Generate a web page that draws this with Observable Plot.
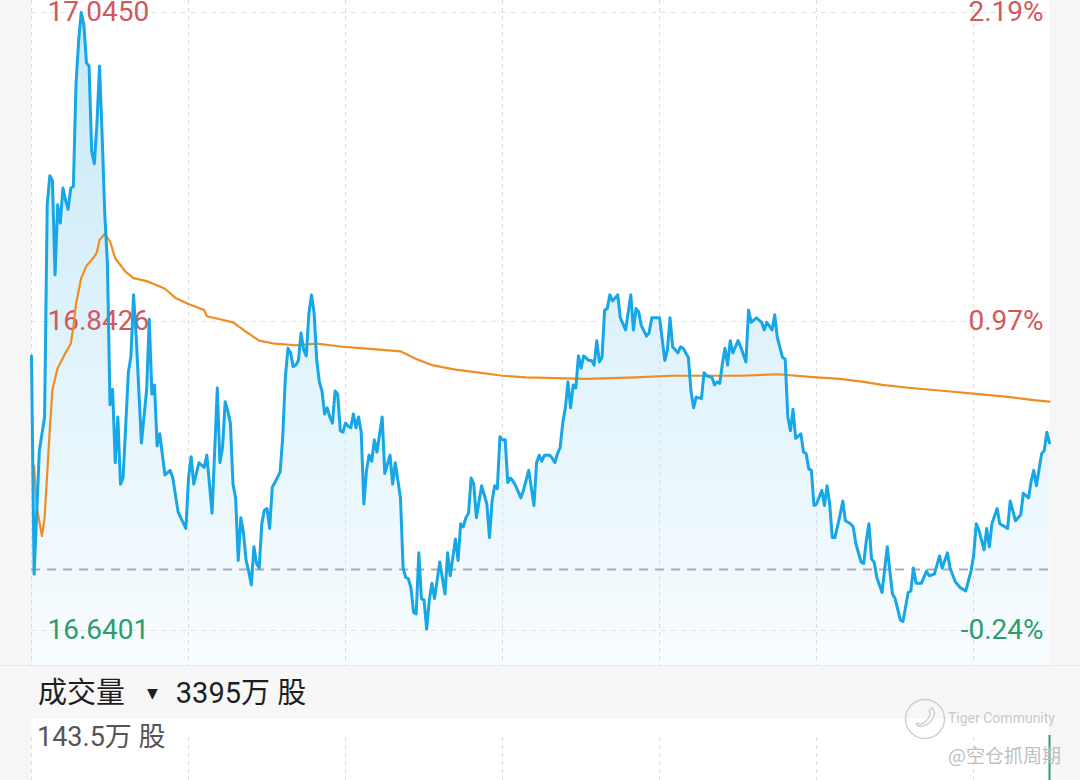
<!DOCTYPE html>
<html>
<head>
<meta charset="utf-8">
<script src="https://cdn.jsdelivr.net/npm/d3@7"></script>
<script src="https://cdn.jsdelivr.net/npm/@observablehq/plot@0.6"></script>
<style>
  html, body { margin: 0; padding: 0; background: #f6f6f7; }
  #wrap { position: relative; width: 1080px; height: 780px; overflow: hidden; background: #f6f6f7;
          font-family: Roboto, "Noto Sans CJK SC", sans-serif; }
  #chart { position: absolute; left: 0; top: 0; }
  #band { position: absolute; left: 0; top: 665px; width: 1080px; height: 53px; box-sizing: border-box;
          border-top: 1px solid #e9e9ea; background: #f7f7f8; }
  #volTitle { position: absolute; left: 38px; top: 7px; font-size: 29px; color: #1f1f1f;
              font-family: Roboto, "Noto Sans CJK SC", sans-serif; white-space: pre; line-height: 40px; }
  #volTitle .tri { font-size: 14px; vertical-align: 5px; margin: 0 18px 0 22px; font-family: "DejaVu Sans", sans-serif; }
  #volPanel { position: absolute; left: 0; top: 718px; width: 1080px; height: 62px; overflow: hidden; }
  #volMax { position: absolute; left: 37px; top: 718px; font-size: 27px; color: #555; line-height: 38px; white-space: pre; }
  #wm { position: absolute; left: 903px; top: 697px; }
  #wmText1 { position: absolute; left: 948px; top: 710px; font-size: 14px; color: #c9c9cb; font-family: Roboto, sans-serif; }
  #wmText2 { position: absolute; left: 948px; top: 741px; font-size: 19px; color: #bfbfc1; font-family: "Noto Sans CJK SC", sans-serif; }
</style>
</head>
<body>
<div id="wrap">
  <div id="chart"></div>
  <div id="band"><div id="volTitle"></div></div>
  <div id="volPanel"></div>
  <div id="volMax"></div>
  <svg id="wm" width="44" height="44" viewBox="0 0 44 44">
    <circle cx="22" cy="22" r="19.5" fill="none" stroke="#cfcfd1" stroke-width="1.4"/>
    <path d="M13 27 C16 31 22 30 27 25 C32 20 33 14 29 11 L26 14 C28 16 27 20 23 24 C19 28 16 28 15 26 Z" fill="none" stroke="#cfcfd1" stroke-width="1.4"/>
  </svg>
  <div id="wmText1">Tiger Community</div>
  <div id="wmText2">@空仓抓周期</div>
</div>
<script>
// ---- data (minute index from the open, price) ----
const priceMinutes = [0,1,3,5,6,7,8,9,10,11,12,13,14,15,16,17,18,19,20,21,22,23,24,25,26,27,28,29,30,31,32,33,34,35,37,38,39,40,42,44,45,46,47,48,49,51,53,54,56,57,59,60,61,62,64,66,67,69,71,72,73,74,75,76,77,78,79,80,81,82,83,84,85,86,87,88,89,90,91,92,93,95,96,97,98,99,100,101,102,103,104,105,106,107,108,109,110,111,112,113,114,115,116,117,118,119,120,121,122,123,124,125,126,127,128,129,130,131,132,134,135,137,138,139,141,142,143,144,145,146,147,148,149,150,151,152,153,154,156,158,159,160,162,163,164,165,166,167,168,169,170,172,174,175,176,177,178,179,180,181,182,183,184,185,187,188,190,192,193,194,195,196,198,199,200,201,202,203,204,205,206,207,208,209,210,211,213,214,215,216,217,218,219,220,221,222,224,225,227,229,230,231,232,233,235,236,237,239,240,242,243,244,245,247,248,249,251,252,253,254,256,257,258,260,261,262,263,264,265,266,267,268,270,271,273,274,275,277,279,280,281,283,284,285,287,288,289,290,291,292,294,295,296,297,298,299,300,302,303,304,305,306,307,309,310,311,313,314,315,317,318,319,320,321,322,323,325,327,328,329,330,332,333,335,336,337,338,340,342,343,345,347,348,350,351,353,355,357,359,360,361,362,364,365,366,367,369,370,373,374,376,378,379,381,382,383,384,386,387,388,389];
const priceValues = [16.820,16.677,16.758,16.780,16.919,16.938,16.935,16.873,16.919,16.907,16.930,16.922,16.916,16.930,16.931,16.998,17.026,17.045,17.037,17.012,17.010,16.954,16.946,16.972,17.010,16.964,16.913,16.881,16.788,16.798,16.750,16.780,16.736,16.740,16.809,16.820,16.860,16.833,16.763,16.798,16.844,16.795,16.801,16.761,16.769,16.742,16.745,16.740,16.718,16.714,16.707,16.740,16.754,16.736,16.750,16.747,16.755,16.717,16.799,16.750,16.760,16.790,16.784,16.776,16.736,16.727,16.686,16.714,16.704,16.686,16.679,16.670,16.695,16.684,16.681,16.710,16.719,16.720,16.707,16.734,16.737,16.744,16.767,16.806,16.825,16.822,16.813,16.814,16.817,16.835,16.824,16.820,16.848,16.860,16.848,16.817,16.803,16.797,16.782,16.786,16.780,16.776,16.797,16.795,16.771,16.770,16.776,16.774,16.773,16.782,16.773,16.780,16.770,16.723,16.745,16.755,16.751,16.765,16.757,16.780,16.743,16.755,16.736,16.750,16.727,16.681,16.675,16.674,16.668,16.652,16.651,16.691,16.661,16.660,16.641,16.660,16.671,16.661,16.685,16.664,16.691,16.676,16.700,16.686,16.710,16.708,16.714,16.717,16.740,16.736,16.714,16.735,16.723,16.701,16.725,16.735,16.733,16.767,16.765,16.765,16.737,16.740,16.738,16.735,16.727,16.732,16.745,16.722,16.750,16.755,16.751,16.755,16.755,16.753,16.750,16.756,16.760,16.776,16.786,16.803,16.786,16.801,16.799,16.820,16.812,16.820,16.817,16.817,16.814,16.830,16.816,16.819,16.850,16.851,16.860,16.856,16.860,16.845,16.837,16.860,16.837,16.851,16.849,16.840,16.833,16.835,16.845,16.845,16.845,16.817,16.824,16.845,16.826,16.822,16.826,16.825,16.819,16.797,16.786,16.793,16.792,16.809,16.807,16.806,16.801,16.803,16.802,16.815,16.825,16.814,16.830,16.822,16.830,16.826,16.816,16.850,16.842,16.845,16.842,16.837,16.842,16.837,16.847,16.832,16.819,16.818,16.780,16.771,16.785,16.766,16.769,16.757,16.756,16.746,16.745,16.722,16.723,16.732,16.722,16.735,16.723,16.701,16.701,16.716,16.725,16.712,16.710,16.708,16.697,16.685,16.684,16.699,16.710,16.687,16.685,16.675,16.665,16.695,16.679,16.664,16.661,16.647,16.646,16.665,16.666,16.681,16.671,16.671,16.679,16.676,16.677,16.689,16.681,16.691,16.681,16.672,16.668,16.666,16.679,16.689,16.710,16.706,16.693,16.707,16.695,16.710,16.720,16.710,16.707,16.725,16.712,16.716,16.730,16.727,16.738,16.745,16.735,16.756,16.758,16.770,16.763];

const avgMinutes = [1,2,4,5,7,8,10,13,15,16,17,19,21,24,25,26,28,30,32,36,39,44,47,51,55,60,63,66,67,72,77,81,87,93,101,109,119,127,134,141,147,153,162,171,180,189,212,231,244,271,285,300,309,318,325,336,349,362,374,383,389];
const avgValues = [16.748,16.721,16.702,16.714,16.772,16.798,16.812,16.822,16.828,16.839,16.854,16.871,16.879,16.885,16.888,16.896,16.900,16.895,16.884,16.875,16.871,16.869,16.867,16.864,16.858,16.854,16.852,16.850,16.846,16.844,16.842,16.837,16.830,16.828,16.827,16.828,16.826,16.825,16.824,16.823,16.818,16.814,16.811,16.809,16.807,16.806,16.805,16.806,16.807,16.807,16.808,16.806,16.805,16.803,16.801,16.799,16.797,16.795,16.793,16.791,16.790];

const prevClose = 16.68;
const priceTicks = [17.0450, 16.8426, 16.6401];
const pctTicks = ["2.19%", "0.97%", "-0.24%"];
const hourTicks = [0, 60, 120, 180, 240, 300, 360];
const sessionMinutes = [0, 389];

const volumeTitle = "成交量";
const volumeTotalLabel = "3395万 股";
const volumeMaxLabel = "143.5万 股";
const volumeMinutes = [389];
const volumeValues = [143.5];   // 万股
const volumeMax = 143.5;

// ---- styles ----
const RED = "#d05a5b", GREEN = "#2e9d6c", BLUE = "#17a6e6", ORANGE = "#ee8d22";

const priceData = priceMinutes.map((t, i) => ({t, p: priceValues[i]}));
const avgData = avgMinutes.map((t, i) => ({t, p: avgValues[i]}));

const hi = d3.max(priceTicks), lo = d3.min(priceTicks);
const unit = (hi - lo) / 618;
const yDomain = [lo - 35 * unit, hi + 12 * unit];

function gradientDefs() {
  const ns = "http://www.w3.org/2000/svg";
  const defs = document.createElementNS(ns, "defs");
  defs.innerHTML = `<linearGradient id="priceFill" gradientUnits="userSpaceOnUse" x1="0" y1="0" x2="0" y2="665">
      <stop offset="0" stop-color="#1aa5e6" stop-opacity="0.25"/>
      <stop offset="1" stop-color="#1aa5e6" stop-opacity="0.03"/>
    </linearGradient>`;
  return defs;
}

const main = Plot.plot({
  width: 1080, height: 665,
  marginLeft: 31, marginRight: 31, marginTop: 0, marginBottom: 0,
  x: {domain: sessionMinutes, axis: null},
  y: {domain: yDomain, axis: null},
  style: {background: "transparent", overflow: "visible"},
  marks: [
    Plot.frame({fill: "white", stroke: "none"}),
    gradientDefs,
    Plot.areaY(priceData, {x: "t", y1: yDomain[0], y2: "p", fill: "url(#priceFill)"}),
    Plot.ruleX(hourTicks, {stroke: "#dadadc", strokeDasharray: "4,4"}),
    Plot.ruleY(priceTicks, {stroke: "#e0e0e2", strokeDasharray: "5,5"}),
    Plot.ruleY([prevClose], {stroke: "#a9adb4", strokeWidth: 2, strokeDasharray: "9,7"}),
    Plot.text(priceTicks, {y: d => d, text: d => d.toFixed(4), frameAnchor: "left", dx: 16, textAnchor: "start",
      fill: d => d >= prevClose ? RED : GREEN, fontSize: 28, fontFamily: "Roboto"}),
    Plot.text(pctTicks, {y: (d, i) => priceTicks[i], text: d => d, frameAnchor: "right", dx: -6, textAnchor: "end",
      fill: d => d.startsWith("-") ? GREEN : RED, fontSize: 28, fontFamily: "Roboto"}),
    Plot.line(avgData, {x: "t", y: "p", stroke: ORANGE, strokeWidth: 2.2}),
    Plot.line(priceData, {x: "t", y: "p", stroke: BLUE, strokeWidth: 3, strokeLinejoin: "round"})
  ]
});
document.getElementById("chart").appendChild(main);

const volData = volumeMinutes.map((t, i) => ({t, v: volumeValues[i]}));
const vol = Plot.plot({
  width: 1080, height: 120,
  marginLeft: 31, marginRight: 31, marginTop: 17, marginBottom: 0,
  x: {domain: sessionMinutes, axis: null},
  y: {domain: [0, volumeMax], axis: null},
  style: {background: "transparent", overflow: "visible"},
  marks: [
    Plot.frame({fill: "white", stroke: "none", insetTop: -17}),
    Plot.ruleX(hourTicks, {y1: 0, y2: volumeMax, stroke: "#dadadc", strokeDasharray: "4,4", insetTop: -17}),
    Plot.ruleX(volData, {x: "t", y1: 0, y2: "v", stroke: GREEN, strokeWidth: 2})
  ]
});
document.getElementById("volPanel").appendChild(vol);

const title = document.getElementById("volTitle");
title.innerHTML = `${volumeTitle}<span class="tri">▼</span>${volumeTotalLabel}`;
document.getElementById("volMax").textContent = volumeMaxLabel;
</script>
</body>
</html>
